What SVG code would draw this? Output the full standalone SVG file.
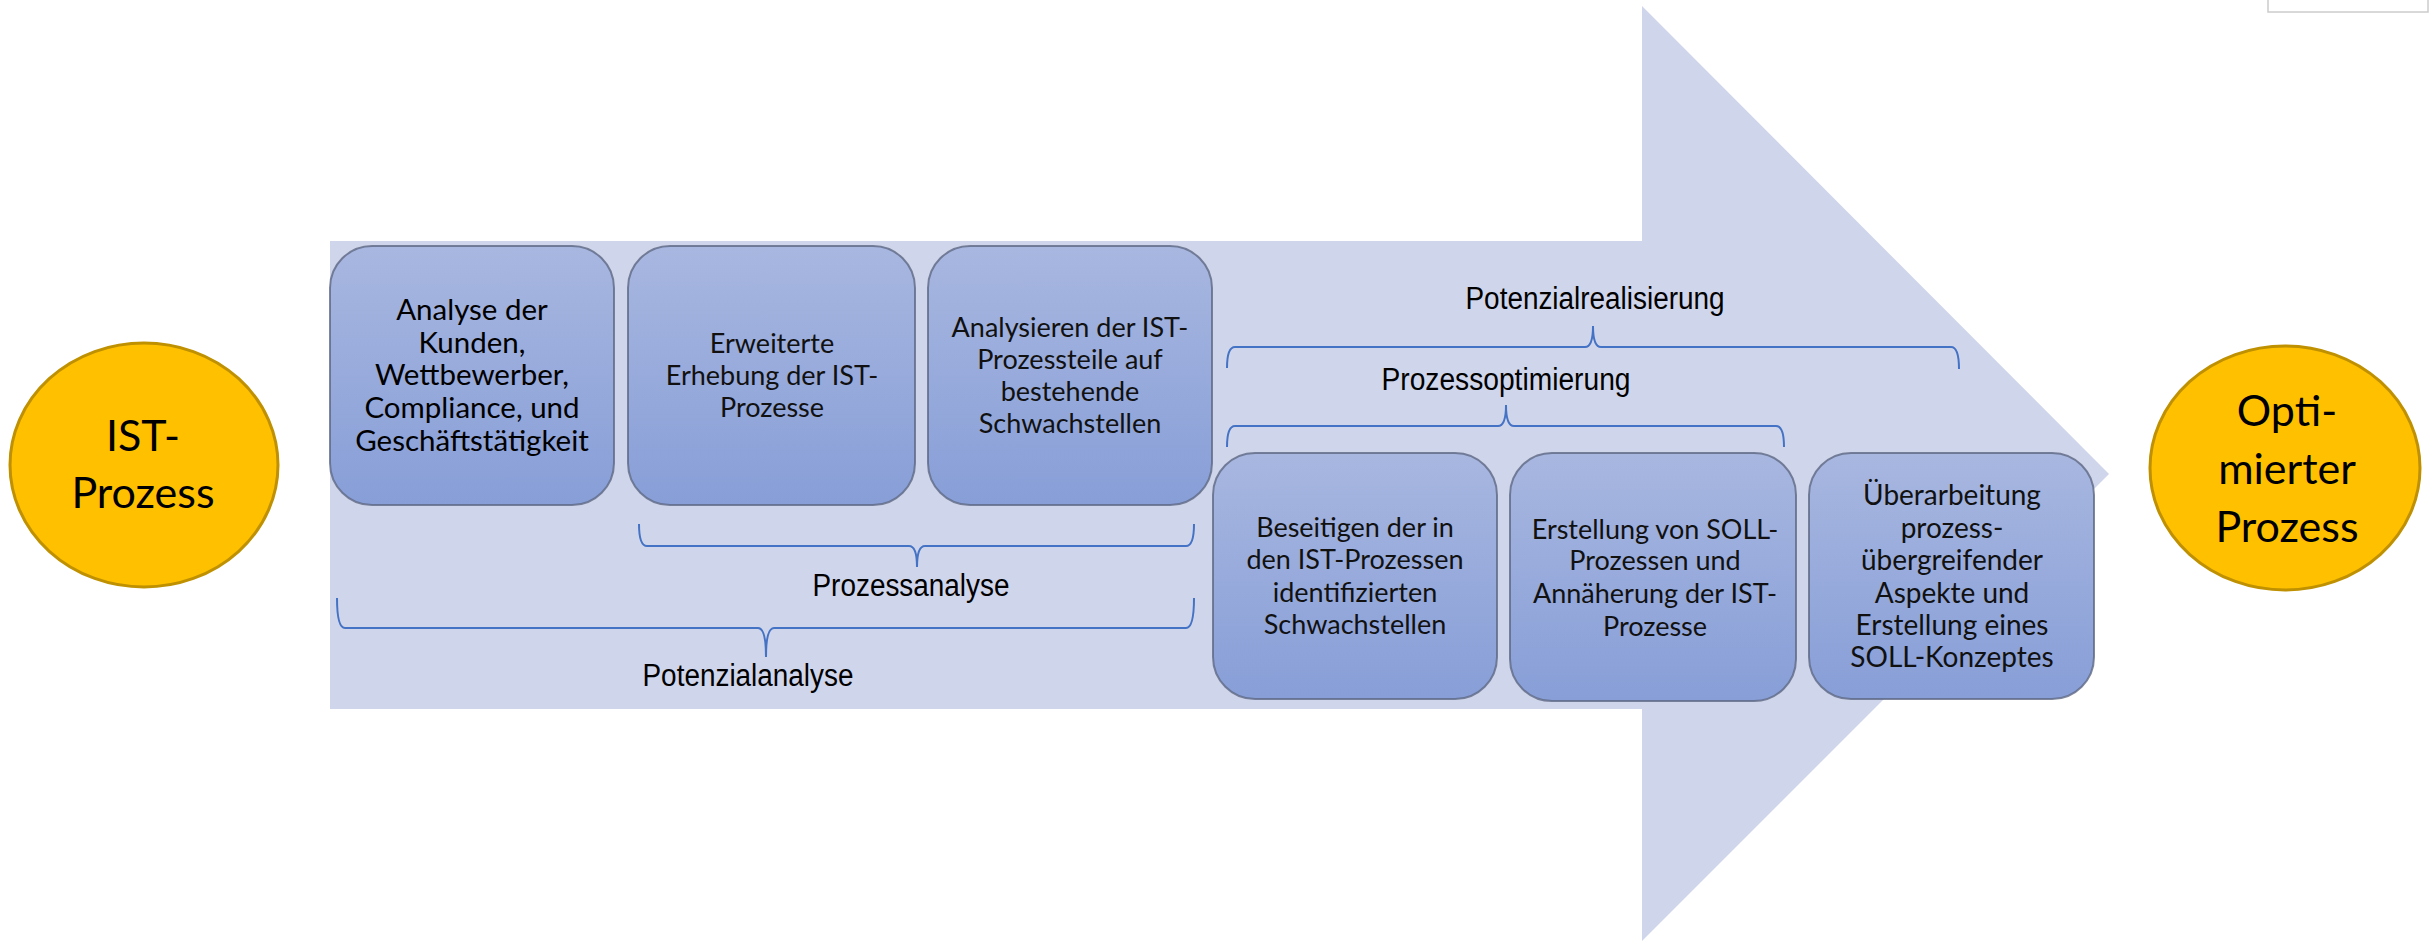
<svg xmlns="http://www.w3.org/2000/svg" width="2433" height="941" viewBox="0 0 2433 941">
<style>
.box{fill:url(#boxGrad);stroke:#5E6883;stroke-width:2;stroke-opacity:0.8}
.bt{font-family:Lato,"Open Sans","Liberation Sans",sans-serif;font-size:27px;fill:#111;text-anchor:middle}
.bt1{font-size:29.5px;fill:#000}
.bt6{font-size:28px}
.ct{font-family:Lato,"Open Sans","Liberation Sans",sans-serif;font-size:43px;fill:#000;text-anchor:middle}
.circ{fill:#FFC000;stroke:#BF9000;stroke-width:3}
.brace{fill:none;stroke:#4472C4;stroke-width:2}
.lbl{font-family:"Liberation Sans",Arial,sans-serif;font-size:31px;fill:#000;text-anchor:middle}
</style>
<defs>
<linearGradient id="boxGrad" x1="0" y1="0" x2="0" y2="1">
<stop offset="0" stop-color="#A8B7E0"/>
<stop offset="1" stop-color="#879ED7"/>
</linearGradient>
</defs>
<rect x="0" y="0" width="2433" height="941" fill="#FFFFFF"/>
<rect x="2268" y="-2" width="160" height="14" fill="#FFFFFF" stroke="#CCCCCC" stroke-width="1.5"/>
<g id="arrow">
<path d="M330,241 L1642,241 L1642,6 L2109,474 L1642,941 L1642,709 L330,709 Z" fill="#CFD5EA"/>
</g>
<g id="connectors">
<path class="brace" d="M639,524 Q639,546 647,546 L909,546 Q917,546 917,567 Q917,546 925,546 L1186,546 Q1194,546 1194,524"/>
<path class="brace" d="M337,598 Q337,628 345,628 L758,628 Q766,628 766,657 Q766,628 774,628 L1186,628 Q1194,628 1194,598"/>
<path class="brace" d="M1227,368 Q1227,347 1235,347 L1585,347 Q1593,347 1593,326 Q1593,347 1601,347 L1951,347 Q1959,347 1959,369"/>
<path class="brace" d="M1227,447 Q1227,426 1235,426 L1498,426 Q1506,426 1506,405 Q1506,426 1514,426 L1776,426 Q1784,426 1784,447"/>
</g>
<g id="labels">
<text class="lbl" x="911" y="596" textLength="197" lengthAdjust="spacingAndGlyphs">Prozessanalyse</text>
<text class="lbl" x="748" y="686" textLength="211" lengthAdjust="spacingAndGlyphs">Potenzialanalyse</text>
<text class="lbl" x="1595" y="309" textLength="259" lengthAdjust="spacingAndGlyphs">Potenzialrealisierung</text>
<text class="lbl" x="1506" y="390" textLength="249" lengthAdjust="spacingAndGlyphs">Prozessoptimierung</text>
</g>
<g id="ist">
<ellipse class="circ" cx="144" cy="465" rx="134" ry="122"/>
<text class="ct" x="143" y="451">IST-</text>
<text class="ct" x="143" y="508">Prozess</text>
</g>
<g id="box1">
<rect class="box" x="330" y="246" width="284" height="259" rx="42"/>
<text class="bt bt1" x="472" y="320">Analyse der</text>
<text class="bt bt1" x="472" y="353">Kunden,</text>
<text class="bt bt1" x="472" y="385">Wettbewerber,</text>
<text class="bt bt1" x="472" y="418">Compliance,  und</text>
<text class="bt bt1" x="472" y="451">Geschäftstätigkeit</text>
</g>
<g id="box2">
<rect class="box" x="628" y="246" width="287" height="259" rx="42"/>
<text class="bt" x="772" y="353">Erweiterte</text>
<text class="bt" x="772" y="385">Erhebung der IST-</text>
<text class="bt" x="772" y="417">Prozesse</text>
</g>
<g id="box3">
<rect class="box" x="928" y="246" width="284" height="259" rx="42"/>
<text class="bt" x="1070" y="337">Analysieren der IST-</text>
<text class="bt" x="1070" y="369">Prozessteile auf</text>
<text class="bt" x="1070" y="401">bestehende</text>
<text class="bt" x="1070" y="433">Schwachstellen</text>
</g>
<g id="box4">
<rect class="box" x="1213" y="453" width="284" height="246" rx="42"/>
<text class="bt" x="1355" y="537">Beseitigen der in</text>
<text class="bt" x="1355" y="569">den IST-Prozessen</text>
<text class="bt" x="1355" y="602">identifizierten</text>
<text class="bt" x="1355" y="634">Schwachstellen</text>
</g>
<g id="box5">
<rect class="box" x="1510" y="453" width="286" height="248" rx="42"/>
<text class="bt" x="1655" y="539">Erstellung von SOLL-</text>
<text class="bt" x="1655" y="570">Prozessen und</text>
<text class="bt" x="1655" y="603">Annäherung der IST-</text>
<text class="bt" x="1655" y="636">Prozesse</text>
</g>
<g id="box6">
<rect class="box" x="1809" y="453" width="285" height="246" rx="42"/>
<text class="bt bt6" x="1952" y="505">Überarbeitung</text>
<text class="bt bt6" x="1952" y="538">prozess-</text>
<text class="bt bt6" x="1952" y="570">übergreifender</text>
<text class="bt bt6" x="1952" y="603">Aspekte und</text>
<text class="bt bt6" x="1952" y="635">Erstellung eines</text>
<text class="bt bt6" x="1952" y="667">SOLL-Konzeptes</text>
</g>
<g id="opt">
<ellipse class="circ" cx="2285" cy="468" rx="135" ry="122"/>
<text class="ct" x="2287" y="426">Opti-</text>
<text class="ct" x="2287" y="484">mierter</text>
<text class="ct" x="2287" y="542">Prozess</text>
</g>
</svg>
